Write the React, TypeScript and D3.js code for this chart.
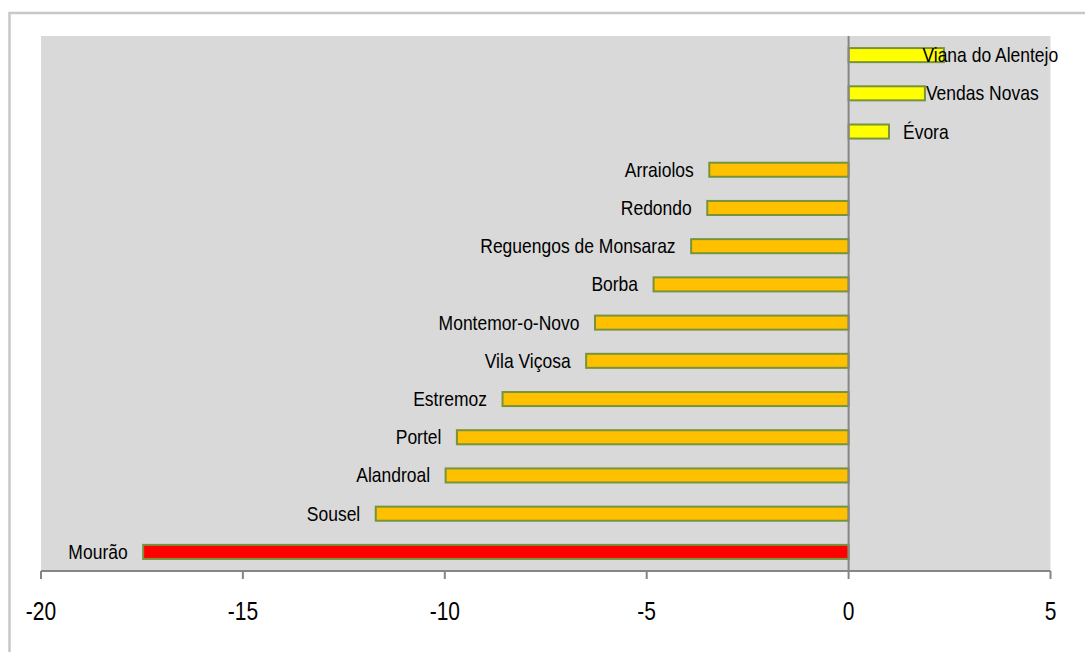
import React from "react";
import * as d3 from "d3";

const categories = [
  "Viana do Alentejo",
  "Vendas Novas",
  "Évora",
  "Arraiolos",
  "Redondo",
  "Reguengos de Monsaraz",
  "Borba",
  "Montemor-o-Novo",
  "Vila Viçosa",
  "Estremoz",
  "Portel",
  "Alandroal",
  "Sousel",
  "Mourão",
];
const values = [2.36, 1.89, 1.0, -3.45, -3.5, -3.9, -4.83, -6.28, -6.5, -8.57, -9.7, -9.98, -11.71, -17.47];
const barColors = ["#FFFF00", "#FFFF00", "#FFFF00", "#FFC000", "#FFC000", "#FFC000", "#FFC000", "#FFC000", "#FFC000", "#FFC000", "#FFC000", "#FFC000", "#FFC000", "#FF0000"];
// manual label shifts (labels moved in the original)
const labelShift = [-35.5, -13, 0, 0, 0, 0, 0, 0, 0, 0, 0, 0, 0, 0];
const xTicks = [-20, -15, -10, -5, 0, 5];

const W = 1085;
const H = 652;
const plot = { left: 41, right: 1050.5, top: 36, bottom: 571 };

export default function App() {
  const x = d3.scaleLinear().domain([-20, 5]).range([plot.left, plot.right]);
  const y = d3
    .scaleBand<string>()
    .domain(categories)
    .range([plot.top, plot.bottom])
    .paddingInner(0.58)
    .paddingOuter(0.29);
  const font = "'Liberation Sans', Arial, sans-serif";
  const bw = y.bandwidth();

  return (
    <svg
      width={W}
      height={H}
      style={{ position: "absolute", left: 0, top: 0, background: "#fff" }}
    >
      <rect x={9.5} y={13} width={W + 20} height={H + 20} fill="#fff" stroke="#C8C8C8" strokeWidth={2.5} />
      <rect
        x={plot.left}
        y={plot.top}
        width={plot.right - plot.left}
        height={plot.bottom - plot.top}
        fill="#D9D9D9"
      />
      {categories.map((c, i) => {
        const v = values[i];
        const x0 = x(0);
        const x1 = x(v);
        const yy = y(c)!;
        const cy = yy + bw / 2;
        const pos = v >= 0;
        const lx = (pos ? x1 + 14 : x1 - 15.5) + labelShift[i];
        return (
          <g key={c}>
            <rect
              x={Math.min(x0, x1)}
              y={yy + 1}
              width={Math.abs(x1 - x0)}
              height={bw - 2}
              fill={barColors[i]}
              stroke="#77933C"
              strokeWidth={2}
            />
            <text
              transform={`translate(${lx},${cy + 7}) scale(1,1.12)`}
              textAnchor={pos ? "start" : "end"}
              fontFamily={font}
              fontSize={17.5}
              fill="#000"
            >
              {c}
            </text>
          </g>
        );
      })}
      <line x1={x(0)} x2={x(0)} y1={plot.top} y2={plot.bottom} stroke="#868686" strokeWidth={2} />
      <line x1={plot.left} x2={plot.right} y1={plot.bottom} y2={plot.bottom} stroke="#868686" strokeWidth={2} />
      {xTicks.map((t) => (
        <g key={t}>
          <line x1={x(t)} x2={x(t)} y1={plot.bottom} y2={plot.bottom + 8} stroke="#868686" strokeWidth={2} />
          <text
            transform={`translate(${x(t)},620) scale(1,1.2)`}
            textAnchor="middle"
            fontFamily={font}
            fontSize={21}
            fill="#000"
          >
            {t}
          </text>
        </g>
      ))}
    </svg>
  );
}
